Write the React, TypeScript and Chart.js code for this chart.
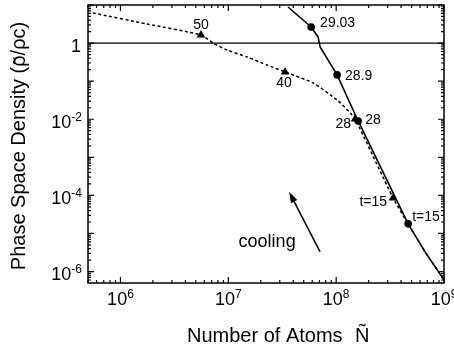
import { useEffect, useRef } from "react";
import { Chart, registerables } from "chart.js";

Chart.register(...registerables);

// ---- axis ranges ----
const X_MIN = 5e5;
const X_MAX = 1e9;
const Y_MIN = 5e-7;
const Y_MAX = 10;

// ---- tick labels ----
const xTickExps = [6, 7, 8, 9];
const yTickExps = [0, -2, -4, -6];

// ---- solid curve (circles) ----
const solidN = [3.58e7, 5.86e7, 6.8e7, 7.1e7, 1.02e8, 1.6e8, 4.65e8, 6.68e8, 1.0e9];
const solidRho = [8.86, 2.65, 1.45, 0.79, 0.146, 0.009, 1.79e-5, 3.29e-6, 6.05e-7];

// ---- dashed curve (triangles) ----
const dashedN = [5.56e5, 1.76e6, 5.58e6, 7.22e6, 9.73e6, 1.49e7, 2.29e7, 3.36e7, 6.11e7, 1.02e8, 1.35e8, 1.5e8, 3.37e8, 4.65e8, 6.68e8, 1.0e9];
const dashedRho = [6.17, 3.17, 1.63, 1.0, 0.659, 0.431, 0.266, 0.174, 0.0897, 0.0321, 0.0146, 0.0102, 8.6e-5, 1.79e-5, 3.29e-6, 6.05e-7];

// ---- markers ----
const circleN = [5.86e7, 1.02e8, 1.6e8, 4.65e8];
const circleRho = [2.65, 0.146, 0.009, 1.79e-5];
const circleLabels = ["29.03", "28.9", "28", "t=15"];

const triN = [5.58e6, 3.36e7, 1.5e8, 3.37e8];
const triRho = [1.63, 0.174, 0.0102, 8.6e-5];
const triLabels = ["50", "40", "28", "t=15"];

// ---- reference line rho = rho_c ----
const refN = [X_MIN, X_MAX];
const refRho = [1, 1];

// ---- cooling arrow ----
const arrowN = [7.1e7, 3.66e7];
const arrowRho = [3.3e-6, 1.24e-4];
const coolingN = 2.29e7;
const coolingRho = 6.0e-6;

// label offsets (style)
const circleOffsets = [
  { dx: 9, dy: -4, align: "left" },
  { dx: 8, dy: 1, align: "left" },
  { dx: 7, dy: -1, align: "left" },
  { dx: 4, dy: -7, align: "left" },
];
const triOffsets = [
  { dx: 0, dy: -10, align: "center" },
  { dx: -1, dy: 11, align: "center" },
  { dx: -4, dy: 5, align: "right" },
  { dx: -6, dy: 4, align: "right" },
];

const FONT = "'Liberation Sans', Arial, Helvetica, sans-serif";

const pts = (xs: number[], ys: number[]) => xs.map((x, i) => ({ x, y: ys[i] }));

const framePlugin = {
  id: "frame",
  afterDraw(chart: any) {
    const ctx: CanvasRenderingContext2D = chart.ctx;
    const { left, right, top, bottom } = chart.chartArea;
    const xs = chart.scales.x;
    const ys = chart.scales.y;
    ctx.save();
    ctx.strokeStyle = "#000";
    ctx.fillStyle = "#000";

    // frame
    ctx.lineWidth = 1.5;
    ctx.strokeRect(left, top, right - left, bottom - top);

    // ticks
    ctx.lineWidth = 1.2;
    const MAJ = 6;
    const MIN = 3;
    for (let d = 5; d <= 9; d++) {
      for (let k = 1; k <= 9; k++) {
        const v = k * Math.pow(10, d);
        if (v < X_MIN * 0.999 || v > X_MAX * 1.001) continue;
        const px = xs.getPixelForValue(v);
        const len = k === 1 ? MAJ : MIN;
        ctx.beginPath();
        ctx.moveTo(px, bottom);
        ctx.lineTo(px, bottom - len);
        ctx.moveTo(px, top);
        ctx.lineTo(px, top + len);
        ctx.stroke();
      }
    }
    for (let d = -7; d <= 1; d++) {
      for (let k = 1; k <= 9; k++) {
        const v = k * Math.pow(10, d);
        if (v < Y_MIN * 0.999 || v > Y_MAX * 1.001) continue;
        const py = ys.getPixelForValue(v);
        const len = k === 1 ? MAJ : MIN;
        ctx.beginPath();
        ctx.moveTo(left, py);
        ctx.lineTo(left + len, py);
        ctx.moveTo(right, py);
        ctx.lineTo(right - len, py);
        ctx.stroke();
      }
    }

    // tick labels
    const bigFont = `18px ${FONT}`;
    const supFont = `12px ${FONT}`;
    ctx.textBaseline = "alphabetic";
    ctx.textAlign = "left";
    for (const e of xTickExps) {
      const px = xs.getPixelForValue(Math.pow(10, e));
      ctx.font = bigFont;
      const w1 = ctx.measureText("10").width;
      ctx.font = supFont;
      const w2 = ctx.measureText(String(e)).width;
      const x0 = px - (w1 + w2) / 2;
      const base = bottom + 22;
      ctx.font = bigFont;
      ctx.fillText("10", x0, base);
      ctx.font = supFont;
      ctx.fillText(String(e), x0 + w1, base - 7);
    }
    for (const e of yTickExps) {
      const py = ys.getPixelForValue(Math.pow(10, e));
      const rightX = left - 6;
      const base = py + 8.5;
      if (e === 0) {
        ctx.font = bigFont;
        ctx.textAlign = "right";
        ctx.fillText("1", rightX - 1, base);
        ctx.textAlign = "left";
        continue;
      }
      const es = String(e);
      ctx.font = bigFont;
      const w1 = ctx.measureText("10").width;
      ctx.font = supFont;
      const w2 = ctx.measureText(es).width;
      const x0 = rightX - w1 - w2;
      ctx.font = bigFont;
      ctx.fillText("10", x0, base);
      ctx.font = supFont;
      ctx.fillText(es, x0 + w1, base - 7);
    }

    // axis titles
    ctx.font = `20px ${FONT}`;
    ctx.textAlign = "left";
    ctx.fillText("Number of Atoms", 187, 342);
    ctx.fillText("Ñ", 355, 342);

    ctx.save();
    ctx.translate(25, 146);
    ctx.rotate(-Math.PI / 2);
    const p1 = "Phase Space Density (";
    const p2 = "ρ";
    const p3 = "/ρc)";
    const w1 = ctx.measureText(p1).width;
    const w2 = ctx.measureText(p2).width;
    const w3 = ctx.measureText(p3).width;
    const x0 = -(w1 + w2 + w3) / 2;
    ctx.textAlign = "left";
    ctx.fillText(p1, x0, 0);
    ctx.fillText(p2, x0 + w1, 0);
    ctx.fillText(p3, x0 + w1 + w2, 0);
    ctx.textAlign = "center";
    ctx.fillText("\u02DC", x0 + w1 + w2 / 2 + 0.5, 2);
    ctx.restore();

    // point annotations
    ctx.font = `14px ${FONT}`;
    ctx.textBaseline = "middle";
    circleN.forEach((n, i) => {
      const o = circleOffsets[i];
      ctx.textAlign = o.align as CanvasTextAlign;
      ctx.fillText(circleLabels[i], xs.getPixelForValue(n) + o.dx, ys.getPixelForValue(circleRho[i]) + o.dy);
    });
    triN.forEach((n, i) => {
      const o = triOffsets[i];
      ctx.textAlign = o.align as CanvasTextAlign;
      ctx.fillText(triLabels[i], xs.getPixelForValue(n) + o.dx, ys.getPixelForValue(triRho[i]) + o.dy);
    });

    // cooling arrow
    const tx = xs.getPixelForValue(arrowN[0]);
    const ty = ys.getPixelForValue(arrowRho[0]);
    const hx = xs.getPixelForValue(arrowN[1]);
    const hy = ys.getPixelForValue(arrowRho[1]);
    const ang = Math.atan2(hy - ty, hx - tx);
    const L = 11;
    const W = 3.5;
    const bx = hx - L * Math.cos(ang);
    const by = hy - L * Math.sin(ang);
    ctx.lineWidth = 1.5;
    ctx.beginPath();
    ctx.moveTo(tx, ty);
    ctx.lineTo(bx, by);
    ctx.stroke();
    ctx.beginPath();
    ctx.moveTo(hx, hy);
    ctx.lineTo(bx + W * Math.sin(ang), by - W * Math.cos(ang));
    ctx.lineTo(bx - W * Math.sin(ang), by + W * Math.cos(ang));
    ctx.closePath();
    ctx.fill();

    ctx.font = `18px ${FONT}`;
    ctx.textAlign = "center";
    ctx.textBaseline = "middle";
    ctx.fillText("cooling", xs.getPixelForValue(coolingN), ys.getPixelForValue(coolingRho));

    ctx.restore();
  },
};

export default function App() {
  const ref = useRef<HTMLCanvasElement>(null);
  useEffect(() => {
    const canvas = ref.current;
    if (!canvas) return;
    const chart = new Chart(canvas, {
      type: "scatter",
      data: {
        datasets: [
          {
            data: pts(refN, refRho),
            showLine: true,
            borderColor: "#000",
            borderWidth: 1.3,
            pointRadius: 0,
          },
          {
            data: pts(dashedN, dashedRho),
            showLine: true,
            borderColor: "#000",
            borderWidth: 1.5,
            borderDash: [3, 2.5],
            pointRadius: 0,
            tension: 0.2,
          },
          {
            data: pts(solidN, solidRho),
            showLine: true,
            borderColor: "#000",
            borderWidth: 1.6,
            pointRadius: 0,
          },
          {
            data: pts(circleN, circleRho),
            showLine: false,
            pointStyle: "circle",
            pointRadius: 3.8,
            backgroundColor: "#000",
            borderColor: "#000",
            borderWidth: 0,
          },
          {
            data: pts(triN, triRho),
            showLine: false,
            pointStyle: "triangle",
            pointRadius: 5,
            backgroundColor: "#000",
            borderColor: "#000",
            borderWidth: 0,
          },
        ],
      },
      options: {
        animation: false,
        responsive: false,
        devicePixelRatio: 1,
        layout: { padding: { left: 88, top: 5, right: 10, bottom: 68 } },
        plugins: { legend: { display: false }, tooltip: { enabled: false } },
        scales: {
          x: { type: "logarithmic", min: X_MIN, max: X_MAX, display: false },
          y: { type: "logarithmic", min: Y_MIN, max: Y_MAX, display: false },
        },
      },
      plugins: [framePlugin],
    });
    return () => chart.destroy();
  }, []);
  return (
    <div style={{ position: "absolute", left: 0, top: 0, width: 454, height: 351, background: "#fff" }}>
      <canvas ref={ref} width={454} height={351} style={{ width: 454, height: 351, display: "block" }} />
    </div>
  );
}
